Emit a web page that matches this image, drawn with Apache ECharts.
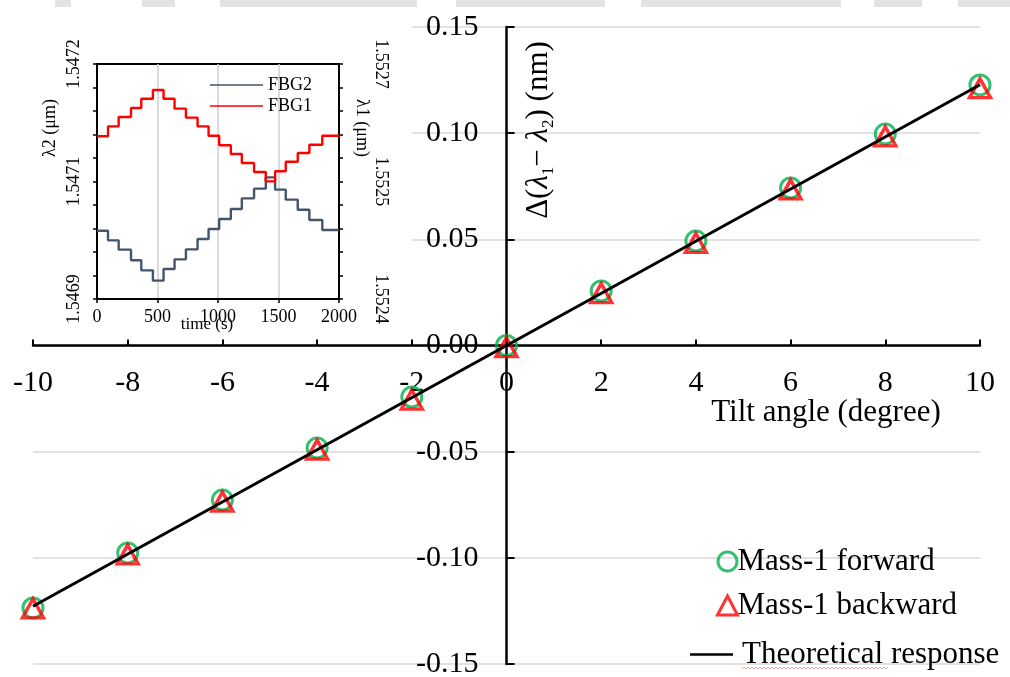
<!DOCTYPE html>
<html>
<head>
<meta charset="utf-8">
<script src="https://cdn.jsdelivr.net/npm/echarts@6/dist/echarts.min.js"></script>
<style>
  html, body { margin: 0; padding: 0; background: #fff; }
  #chart { width: 1010px; height: 677px; }
</style>
</head>
<body>
<div id="chart"></div>
<script>
// ---- Main plot: wavelength difference versus tilt angle ----
const tiltAngles = [-10, -8, -6, -4, -2, 0, 2, 4, 6, 8, 10];
const forwardShift = [-0.1236, -0.0977, -0.0728, -0.0483, -0.0243, 0.0000, 0.0257, 0.0492, 0.0742, 0.0996, 0.1227];
const backwardShift = [-0.1238, -0.0984, -0.0735, -0.0490, -0.0255, -0.0008, 0.0247, 0.0483, 0.0735, 0.0985, 0.1212];
const theoryAngles = [-10, 10];
const theoryShift = [-0.1228, 0.1228];

// ---- Inset: FBG wavelengths over time (step levels) ----
const stepTimes = [0, 91, 179, 281, 366, 462, 550, 641, 735, 831, 922, 1010, 1106, 1197, 1298, 1395, 1472, 1560, 1659, 1755, 1862, 2000];
const fbg1Levels = [1.5526077, 1.5526204, 1.5526323, 1.5526438, 1.5526557, 1.5526668, 1.5526557, 1.5526430, 1.5526315, 1.5526204, 1.5526085,
                    1.5525962, 1.5525851, 1.5525736, 1.5525621, 1.5525502, 1.5525630, 1.5525753, 1.5525864, 1.5525970, 1.5526085];
const fbg2Levels = [1.5469872, 1.5469749, 1.5469630, 1.5469494, 1.5469366, 1.5469234, 1.5469383, 1.5469506, 1.5469634, 1.5469766, 1.5469894,
                    1.5470021, 1.5470149, 1.5470285, 1.5470409, 1.5470553, 1.5470396, 1.5470268, 1.5470140, 1.5470009, 1.5469881];
const lambda2Ticks = [1.5469, 1.54705, 1.5472];
const lambda2Labels = ['1.5469', '1.5471', '1.5472'];
const lambda1Ticks = [1.5524, 1.55255, 1.5527];
const lambda1Labels = ['1.5524', '1.5525', '1.5527'];

const SERIF = 'Liberation Serif, Times New Roman, serif';

// main plot area
const MAIN = { left: 33, right: 30, top: 27, bottom: 13 };
const MAIN_W = 1010 - MAIN.left - MAIN.right;
const MAIN_H = 677 - MAIN.top - MAIN.bottom;

function minorTicks(ticks) {
  const lo = ticks[0], hi = ticks[ticks.length - 1], out = [];
  for (let k = 0; k <= 10; k++) out.push(lo + (hi - lo) * k / 10);
  return out;
}
function labelFor(ticks, labels) {
  return v => {
    const i = ticks.findIndex(t => Math.abs(t - v) < 1e-9);
    return i >= 0 ? labels[i] : '';
  };
}
function stepData(levels) {
  return stepTimes.map((t, i) => [t, levels[Math.min(i, levels.length - 1)]]);
}

// faint wavy underline under the legend word
const wavy = [];
for (let x = 742; x <= 888; x += 2) wavy.push([x, 668 + ((x / 2) % 2 ? 1 : -1)]);

const chart = echarts.init(document.getElementById('chart'), null, { renderer: 'canvas' });

chart.setOption({
  backgroundColor: '#fff',
  animation: false,
  textStyle: { fontFamily: SERIF, color: '#000' },
  grid: [
    { left: MAIN.left, right: MAIN.right, top: MAIN.top, bottom: MAIN.bottom, z: 0, outerBoundsMode: 'none' },
    { left: 97, top: 64, width: 242, height: 235, show: true, backgroundColor: '#fff',
      borderColor: '#000', borderWidth: 2, z: 3, outerBoundsMode: 'none' }
  ],
  xAxis: [
    {
      // crosses the vertical axis at zero (middle of the plot)
      gridIndex: 0, type: 'value', min: -10, max: 10, interval: 2, z: 0,
      position: 'bottom', offset: -MAIN_H / 2,
      axisLine: { onZero: false, lineStyle: { color: '#000', width: 2.5 } },
      axisTick: { inside: true, length: 6, lineStyle: { color: '#000', width: 2 } },
      axisLabel: { fontSize: 30, fontFamily: SERIF, color: '#000', margin: 23,
                   formatter: v => String(v) },
      splitLine: { show: false }
    },
    {
      gridIndex: 1, type: 'value', min: 0, max: 2000, interval: 500, z: 3,
      axisLine: { onZero: false, lineStyle: { color: '#000', width: 2 } },
      axisTick: { inside: false, length: 4, lineStyle: { color: '#000', width: 1.5 } },
      axisLabel: { fontSize: 18, fontFamily: SERIF, color: '#000', margin: 9,
                   formatter: v => String(v) },
      splitLine: { show: true, lineStyle: { color: '#cfcfcf', width: 1.5 } },
      name: 'time (s)', nameLocation: 'middle', nameGap: 17, nameMoveOverlap: false,
      nameTextStyle: { fontSize: 17, fontFamily: SERIF, color: '#000', padding: [0, 22, 0, 0] }
    }
  ],
  yAxis: [
    {
      // crosses the horizontal axis at zero (middle of the plot)
      gridIndex: 0, type: 'value', min: -0.15, max: 0.15, interval: 0.05, z: 0,
      position: 'left', offset: -MAIN_W / 2,
      axisLine: { onZero: false, lineStyle: { color: '#000', width: 2.5 } },
      axisTick: { inside: true, length: 8, lineStyle: { color: '#000', width: 2 } },
      axisLabel: { fontSize: 30, fontFamily: SERIF, color: '#000', margin: 28,
                   formatter: v => v.toFixed(2) },
      splitLine: { show: true, lineStyle: { color: '#d9d9d9', width: 1.5 } }
    },
    {
      gridIndex: 1, type: 'value', position: 'left', min: 1.5469, max: 1.5472, z: 3,
      axisLine: { onZero: false, lineStyle: { color: '#000', width: 2 } },
      axisTick: { inside: false, length: 4, customValues: minorTicks(lambda2Ticks),
                  lineStyle: { color: '#000', width: 1.5 } },
      axisLabel: { rotate: 90, fontSize: 18, fontFamily: SERIF, color: '#000', margin: 14,
                   customValues: lambda2Ticks, formatter: labelFor(lambda2Ticks, lambda2Labels) },
      splitLine: { show: false }
    },
    {
      gridIndex: 1, type: 'value', position: 'right', min: 1.5524, max: 1.5527, z: 3,
      axisLine: { onZero: false, lineStyle: { color: '#000', width: 2 } },
      axisTick: { inside: false, length: 4, customValues: minorTicks(lambda1Ticks),
                  lineStyle: { color: '#000', width: 1.5 } },
      axisLabel: { rotate: -90, fontSize: 18, fontFamily: SERIF, color: '#000', margin: 33,
                   customValues: lambda1Ticks, formatter: labelFor(lambda1Ticks, lambda1Labels) },
      splitLine: { show: false }
    }
  ],
  legend: [
    {
      data: ['Mass-1 forward', 'Mass-1 backward'], orient: 'vertical', left: 711, top: 541,
      itemWidth: 20, itemHeight: 19, itemGap: 13, selectedMode: false,
      itemStyle: { borderWidth: 3 },
      textStyle: { fontSize: 31, fontFamily: SERIF, color: '#000', padding: [0, 0, 0, -5] }
    },
    {
      data: [{ name: 'Theoretical response', icon: 'rect' }], left: 685, top: 634,
      itemWidth: 43, itemHeight: 2.5, selectedMode: false,
      textStyle: { fontSize: 31, fontFamily: SERIF, color: '#000', padding: [0, 0, 0, 4] }
    },
    {
      data: [{ name: 'FBG2', icon: 'rect' }, { name: 'FBG1', icon: 'rect' }],
      orient: 'vertical', left: 205, top: 71,
      itemWidth: 53, itemHeight: 1.6, itemGap: 3, selectedMode: false,
      textStyle: { fontSize: 18, fontFamily: SERIF, color: '#000' }
    }
  ],
  series: [
    {
      name: 'FBG2', type: 'line', xAxisIndex: 1, yAxisIndex: 1, step: 'end', z: 4,
      showSymbol: false, symbol: 'none', color: '#44546a',
      lineStyle: { color: '#44546a', width: 2.4 },
      data: stepData(fbg2Levels),
      markLine: {
        silent: true, symbol: 'none', label: { show: false },
        lineStyle: { color: '#cfcfcf', width: 1.5, type: 'solid' },
        data: [{ yAxis: lambda2Ticks[1] }], z: 3
      }
    },
    {
      name: 'FBG1', type: 'line', xAxisIndex: 1, yAxisIndex: 2, step: 'end', z: 4,
      showSymbol: false, symbol: 'none', color: '#ff0000',
      lineStyle: { color: '#ff0000', width: 2.4 },
      data: stepData(fbg1Levels)
    },
    {
      name: 'Mass-1 forward', type: 'scatter', xAxisIndex: 0, yAxisIndex: 0, z: 5,
      symbol: 'circle', symbolSize: 20,
      itemStyle: { color: 'rgba(255,255,255,0)', borderColor: '#00b050', borderWidth: 3 },
      data: tiltAngles.map((a, i) => [a, forwardShift[i]])
    },
    {
      name: 'Mass-1 backward', type: 'scatter', xAxisIndex: 0, yAxisIndex: 0, z: 6,
      symbol: 'triangle', symbolSize: [21, 19],
      itemStyle: { color: 'rgba(255,255,255,0)', borderColor: '#ff0000', borderWidth: 3.4 },
      data: tiltAngles.map((a, i) => [a, backwardShift[i]])
    },
    {
      name: 'Theoretical response', type: 'line', xAxisIndex: 0, yAxisIndex: 0, z: 7,
      showSymbol: false, symbol: 'none', color: '#000',
      lineStyle: { color: '#000', width: 3 },
      data: theoryAngles.map((a, i) => [a, theoryShift[i]])
    }
  ],
  graphic: [
    // white panel behind the inset
    { type: 'rect', z: 1, shape: { x: 0, y: 0, width: 412, height: 336 }, style: { fill: '#fff' } },
    // pale band along the top edge
    { type: 'rect', z: 2, shape: { x: 55, y: 0, width: 16, height: 7 }, style: { fill: '#e3e3e3' } },
    { type: 'rect', z: 2, shape: { x: 142, y: 0, width: 33, height: 7 }, style: { fill: '#e3e3e3' } },
    { type: 'rect', z: 2, shape: { x: 220, y: 0, width: 197, height: 7 }, style: { fill: '#e3e3e3' } },
    { type: 'rect', z: 2, shape: { x: 456, y: 0, width: 149, height: 7 }, style: { fill: '#e3e3e3' } },
    { type: 'rect', z: 2, shape: { x: 641, y: 0, width: 200, height: 7 }, style: { fill: '#e3e3e3' } },
    { type: 'rect', z: 2, shape: { x: 874, y: 0, width: 48, height: 7 }, style: { fill: '#e3e3e3' } },
    { type: 'rect', z: 2, shape: { x: 958, y: 0, width: 52, height: 7 }, style: { fill: '#e3e3e3' } },
    // main axis titles
    {
      type: 'text', z: 10, x: 539, y: 130, rotation: Math.PI / 2,
      style: {
        text: '{t|Δ(}{i|λ}{s|1}{t|− }{i|λ}{s|2}{t|) (nm)}',
        align: 'center', verticalAlign: 'middle', fill: '#000',
        rich: {
          t: { fontSize: 31, lineHeight: 36, fontFamily: SERIF, fill: '#000' },
          i: { fontSize: 31, lineHeight: 36, fontFamily: SERIF, fontStyle: 'italic', fill: '#000' },
          s: { fontSize: 17, lineHeight: 18, fontFamily: SERIF, fill: '#000', verticalAlign: 'bottom' }
        }
      }
    },
    {
      type: 'text', z: 10, x: 826, y: 413,
      style: { text: 'Tilt angle (degree)', fontSize: 31, fontFamily: SERIF, fill: '#000',
               align: 'center', verticalAlign: 'middle' }
    },
    // inset axis titles
    {
      type: 'text', z: 10, x: 50, y: 128, rotation: Math.PI / 2,
      style: { text: 'λ2 (μm)', fontSize: 18, fontFamily: SERIF, fill: '#000',
               align: 'center', verticalAlign: 'middle' }
    },
    {
      type: 'text', z: 10, x: 362, y: 128, rotation: -Math.PI / 2,
      style: { text: 'λ1 (μm)', fontSize: 18, fontFamily: SERIF, fill: '#000',
               align: 'center', verticalAlign: 'middle' }
    },
    {
      type: 'polyline', z: 10, shape: { points: wavy },
      style: { stroke: '#f2a3a3', lineWidth: 1, fill: null }
    }
  ]
});
</script>
</body>
</html>
